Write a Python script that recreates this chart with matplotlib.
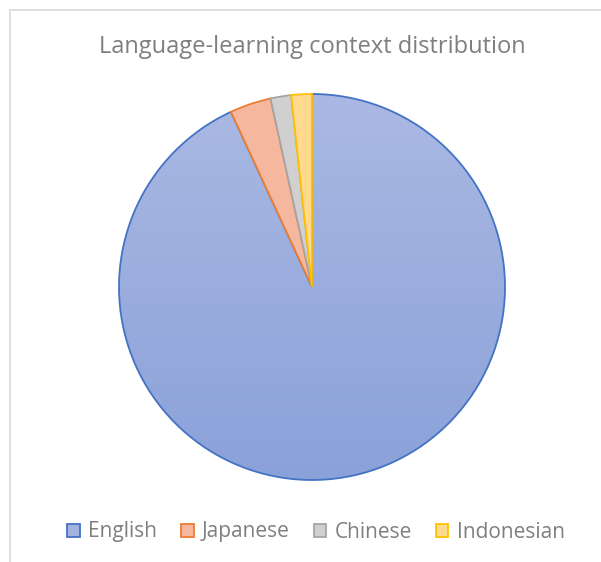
import matplotlib
matplotlib.use("Agg")
import matplotlib.pyplot as plt
import numpy as np
from matplotlib.colors import LinearSegmentedColormap
from matplotlib.patches import Rectangle
from matplotlib.lines import Line2D

categories = ["English", "Japanese", "Chinese", "Indonesian"]
values = [54, 2, 1, 1]
fill_colors = ["#A3B3E0", "#F5B89F", "#D0D0D0", "#FFD98E"]
edge_colors = ["#4472C4", "#ED7D31", "#A5A5A5", "#FFC000"]
title = "Language-learning context distribution"

plt.rcParams['font.family'] = ['Open Sans', 'DejaVu Sans']

W, H = 601, 562
fig = plt.figure(figsize=(W / 100, H / 100), dpi=100)

# chart border (top and left visible)
fig.add_artist(Line2D([10 / W, 1], [1 - 10 / H, 1 - 10 / H], color="#D9D9D9", lw=1.2))
fig.add_artist(Line2D([10 / W, 10 / W], [0, 1 - 10 / H], color="#D9D9D9", lw=1.2))

cx, cy, r = 312, 287, 193
ax = fig.add_axes([(cx - r) / W, (H - cy - r) / H, 2 * r / W, 2 * r / H])
wedges, _ = ax.pie(values, colors=fill_colors, startangle=90, counterclock=False,
                   wedgeprops=dict(linewidth=1.3), radius=1.0)
for w, ec in zip(wedges, edge_colors):
    w.set_edgecolor(ec)
    w.set_joinstyle("miter")
ax.set_aspect("equal")
ax.axis("off")

# gradient fill for English slice
cmap = LinearSegmentedColormap.from_list("g", ["#8BA1D9", "#AAB9E3"])
grad = np.linspace(0, 1, 256).reshape(-1, 1)
im = ax.imshow(grad, cmap=cmap, extent=[-1, 1, -1, 1], origin="lower",
               aspect="auto", zorder=wedges[0].get_zorder() - 0.01)
im.set_clip_path(wedges[0])
wedges[0].set_facecolor("none")
ax.set_xlim(-1, 1)
ax.set_ylim(-1, 1)

fig.text(312 / W, 1 - 47 / H, title, ha="center", va="center",
         fontsize=17, color="#7F7F7F")

# legend
handles = [Rectangle((0, 0), 1, 1, facecolor=fc, edgecolor=ec, lw=1.3)
           for fc, ec in zip(fill_colors, edge_colors)]
fig.legend(handles, categories, loc="center", bbox_to_anchor=(316 / W, 1 - 532 / H),
           ncol=4, frameon=False, fontsize=15, labelcolor="#7F7F7F",
           handlelength=0.6, handleheight=0.6, handletextpad=0.4,
           columnspacing=1.15)

fig.savefig("out.png", dpi=100)
